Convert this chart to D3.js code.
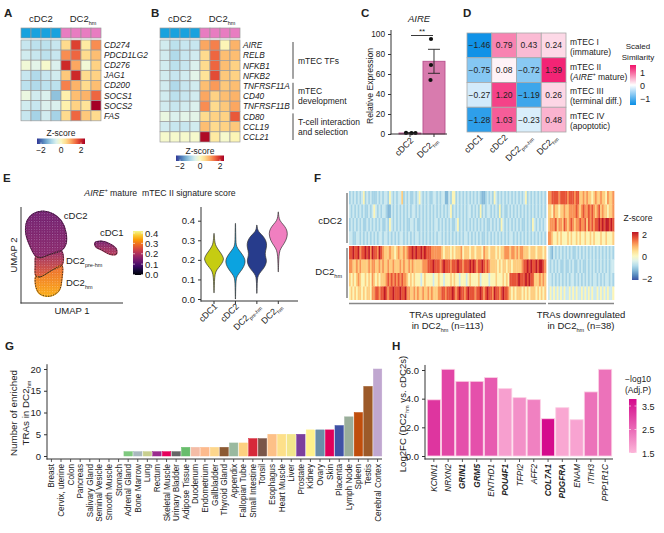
<!DOCTYPE html>
<html>
<head>
<meta charset="utf-8">
<script src="https://cdn.jsdelivr.net/npm/d3@7/dist/d3.min.js"></script>
<style>
html,body{margin:0;padding:0;background:#fff;}
svg text{font-family:"Liberation Sans",Arial,Helvetica,sans-serif;fill:#222;}
</style>
</head>
<body>
<svg id="fig" width="664" height="533" viewBox="0 0 664 533"></svg>
<script>
// ================= DATA =================
// Panel A
const aSamples = ["cDC2","cDC2","cDC2","cDC2","DC2_{hm}","DC2_{hm}","DC2_{hm}","DC2_{hm}"];
const aGenes = ["CD274","PDCD1LG2","CD276","JAG1","CD200","SOCS1","SOCS2","FAS"];
const aZ = [
  [-0.7,-0.8,-0.8,-0.7, 0.5, 1.8, 0.3, 1.2],
  [-0.6,-0.7,-0.8,-0.7, 1.2, 1.5, 0.5, 0.8],
  [-0.2,-0.4,-0.1,-0.5, 2.0, 1.0,-0.2, 0.6],
  [-0.7,-0.9,-0.7,-0.6, 0.7, 2.0, 0.5, 0.6],
  [-0.8,-0.9,-0.8,-0.8, 1.3, 0.9, 0.5, 0.8],
  [-0.3,-0.6,-0.5,-1.2, 0.2, 0.8, 0.9, 1.5],
  [-0.6,-0.7,-0.5,-0.5, 0.2, 0.6, 0.4, 2.5],
  [-0.7,-1.0,-0.6,-1.0, 0.5, 1.5, 0.7, 0.5]
];
// Panel B
const bGenes = ["AIRE","RELB","NFKB1","NFKB2","TNFRSF11A","CD40","TNFRSF11B","CD80","CCL19","CCL21"];
const bZ = [
  [-0.6,-0.8,-0.7,-0.7, 1.0, 1.3, 0.1, 0.9],
  [-0.6,-0.9,-0.7,-0.6, 0.5, 1.5, 0.8, 0.8],
  [-0.6,-0.8,-0.7,-0.5, 0.5, 1.5, 0.8, 0.6],
  [-0.6,-0.7,-0.6,-0.4, 0.4, 1.7, 0.7, 0.6],
  [-0.6,-0.9,-0.7,-0.6, 0.8, 1.1, 0.7, 0.8],
  [-0.6,-0.8,-0.7,-0.6, 1.0, 0.6, 0.8, 0.9],
  [-0.6,-0.7,-0.6,-0.5, 1.2, 0.5, 0.7, 1.0],
  [-0.3,-0.5,-0.4,-0.4, 0.5, 0.6, 0.6, 1.6],
  [-0.6,-0.7,-0.7,-0.6, 0.8, 0.5, 0.6, 0.7],
  [-0.1,-0.1,-0.1,-0.1, 2.3, 0.3,-0.1, 0.1]
];
const bGroupLabels = [["mTEC TFs"],["mTEC","development"],["T-cell interaction","and selection"]];
const bGroupRows = [[0,3],[4,6],[7,9]];
const zTicks = [-2,0,2];
// Panel C
const cGroups = ["cDC2","DC2_{hm}"];
const cMeans = [1.0, 72.7];
const cSEM = [0.3, 12.0];
const cPoints = [[1.1,0.8,1.0],[95,69,54]];
const cTicks = [0,20,40,60,80,100];
// Panel D
const dCols = ["cDC1","cDC2","DC2_{pre-hm}","DC2_{hm}"];
const dRowTitles = ["mTEC I","mTEC II","mTEC III","mTEC IV"];
const dRowSubs = ["(immature)","(*AIRE*^{+} mature)","(terminal diff.)","(apoptotic)"];
const dValues = [
  [-1.46, 0.79, 0.43, 0.24],
  [-0.75, 0.08,-0.72, 1.39],
  [-0.27, 1.20,-1.19, 0.26],
  [-1.28, 1.03,-0.23, 0.48]
];
const dTicks = [1,0,-1];
// Panel E (UMAP in arbitrary UMAP units)
const umapClusters = ["cDC2","DC2_{pre-hm}","DC2_{hm}","cDC1"];
const umapOutlines = [
  [[0.9,12.0],[1.8,13.0],[3.2,13.4],[4.7,13.0],[5.9,12.0],[6.6,10.3],[6.6,8.6],[5.9,7.6],[4.3,7.1],[2.8,6.6],[2.2,6.8],[1.2,8.6],[0.7,10.3]],
  [[2.2,6.8],[2.8,6.6],[4.3,7.1],[5.9,7.6],[6.2,6.9],[6.0,5.5],[4.6,4.8],[2.8,3.8],[2.2,3.9],[2.1,5.5]],
  [[2.2,3.9],[2.8,3.8],[4.6,4.8],[6.0,5.5],[6.0,3.4],[5.6,1.8],[4.3,1.0],[2.8,1.3],[2.2,2.3]],
  [[10.9,8.8],[11.8,9.0],[13.1,8.6],[14.0,7.9],[14.0,7.1],[13.1,7.1],[11.9,7.7],[11.0,8.2]]
];
const umapScoreTop = [0.13, 0.17, 0.28, 0.14];
const umapScoreBottom = [0.16, 0.27, 0.35, 0.21];
const umapLabelPos = [[6.3,12.3],[6.6,5.7],[6.6,2.5],[11.6,9.8]];
const scoreTicks = [0.0,0.1,0.2,0.3,0.4];
const violinGroups = ["cDC1","cDC2","DC2_{pre-hm}","DC2_{hm}"];
const violinDensity = [
  [[0.032,0.01],[0.07,0.03],[0.11,0.06],[0.14,0.15],[0.16,0.45],[0.18,0.78],[0.20,0.95],[0.21,0.95],[0.23,0.75],[0.25,0.45],[0.27,0.2],[0.285,0.1],[0.31,0.04],[0.335,0.01]],
  [[0.0,0.01],[0.04,0.02],[0.08,0.04],[0.105,0.08],[0.12,0.2],[0.14,0.5],[0.165,0.85],[0.19,1.0],[0.21,0.9],[0.23,0.65],[0.25,0.35],[0.267,0.12],[0.285,0.05],[0.32,0.03],[0.36,0.02],[0.386,0.01]],
  [[0.029,0.01],[0.06,0.02],[0.10,0.05],[0.12,0.12],[0.14,0.4],[0.16,0.75],[0.19,1.0],[0.21,0.9],[0.233,0.8],[0.26,0.95],[0.284,1.0],[0.31,0.8],[0.33,0.45],[0.345,0.15],[0.36,0.05],[0.378,0.01]],
  [[0.139,0.01],[0.18,0.03],[0.22,0.06],[0.25,0.15],[0.27,0.4],[0.30,0.8],[0.335,0.95],[0.36,0.8],[0.38,0.5],[0.40,0.15],[0.42,0.05],[0.445,0.01]]
];
// Panel F (one character per TRA; digit = z-score level index into fLevels)
const fLevels = [-2.2,-1.7,-1.3,-1.0,-0.65,0.1,0.65,1.15,1.65,2.15];
const fRowGroups = ["cDC2","DC2_{hm}"];
const fUp = [
  "3434343453 4343334343 4435434344 6343433434 5434343344 3434422435 5343434343 4343432234 3435434343 4343434343 4534343434 343",
  "4343434343 3434543434 4322434343 4343434434 3434343434 3434343453 4343434344 3434353434 4343435343 3434343434 3434343434 343",
  "3434343433 4343434343 3435434343 4343344343 3434343434 4343434343 3453434343 4343434343 3434343543 4343434343 3434354343 434",
  "4433443434 3434343443 4434343434 4343434344 3434343434 3443434343 4343434434 3434343343 4343434343 4344343434 3434343434 343",
  "8898897889 8979887987 6667665676 6767889898 8989888777 7776566656 5666756665 6656665766 5666565667 7767767677 6665666566 656",
  "7766767666 6767766767 6676676667 6766767666 6677788898 8878988878 8898878889 8987889878 7666656566 5665666667 8898988989 987",
  "6565676556 5657656566 6787878787 8776565655 5456555545 5655455565 6554555456 5555645555 4555655565 6588888988 8989886667 676",
  "5656566565 6657788788 9878898889 8897766767 6676676766 6778878889 8789887898 8878898789 8879887898 8765656665 6565666565 656"
];
const fDown = [
  "7788887888 8788878866 7676656766 76657667",
  "6657665667 6677778767 8778787678 67665667",
  "6777867768 7678767787 7868787889 89899898",
  "7765565655 5656556565 5655656555 65565556",
  "4324343434 3434334343 4343434343 43434343",
  "4343434334 3343433434 3343434343 43434344",
  "4434343434 3434434343 4343434434 34344343",
  "4545454545 4454545445 4545454454 54545445"
];
const fBlockTitles = [["TRAs upregulated","in DC2_{hm} (n=113)"],["TRAs downregulated","in DC2_{hm} (n=38)"]];
// Panel G
const gTissues = ["Breast","Cervix, uterine","Colon","Pancreas","Salivary Gland","Seminal Vesicle","Smooth Muscle","Stomach","Adrenal Gland","Bone Marrow","Lung","Rectum","Skeletal Muscle","Urinary Bladder","Adipose Tissue","Duodenum","Endometrium","Gallbladder","Thyroid Gland","Appendix","Fallopian Tube","Small Intestine","Tonsil","Esophagus","Heart Muscle","Liver","Prostate","Kidney","Ovary","Skin","Placenta","Lymph Node","Spleen","Testis","Cerebral Cortex"];
const gCounts = [0,0,0,0,0,0,0,0,1,1,1,1,1,1,2,2,2,2,2,3,3,4,4,5,5,5,5,6,6,6,7,9,10,16,20];
const gColors = ["#efe0ea","#f6e6de","#e6edf2","#dde2f2","#f3dfe6","#f2dfe7","#f0dde6","#f4e2e8","#7fc97f","#a9b8bf","#c8cf8f","#9b2c8e","#e6005c","#666666","#68bd6c","#f4bca6","#fdba8d","#fdd68c","#8c5a33","#9ab99f","#fdd080","#d62839","#7a5548","#fdc087","#fde08a","#f2e68c","#7c3f9d","#fff18c","#6a8ea8","#e0005a","#3f52a5","#9aae9b","#c04e0c","#9c5a29","#c0a7d0"];
const gTicks = [0,5,10,15,20];
// Panel H
const hGenes = ["KCNN1","NRXN2","GRIN1","GRM5","ENTHD1","POU4F1","TFPI2","AFF2","COL7A1","PDGFRA","ENAM","ITIH3","PPP1R1C"];
const hLog2FC = [3.92,6.05,5.21,5.21,5.47,4.70,4.07,3.93,2.60,3.37,2.53,4.47,6.05];
const hNegLogP = [3.2,3.0,2.85,2.85,2.7,1.8,2.0,2.2,3.75,1.7,1.75,2.4,2.4];
const hHighlighted = [false,false,true,true,false,true,false,false,true,true,false,false,false];
const hTicks = [0,2,4,6];
const hLegendTicks = [3.5,2.5,1.5];

// ================= DRAWING =================
const svg = d3.select("#fig");
const defs = svg.append("defs");
const MINUS = "\u2212";
const num = (v, d) => (v < 0 ? MINUS : "") + Math.abs(v).toFixed(d);

function rich(parent, str, attrs) {
  const t = parent.append("text");
  Object.entries(attrs || {}).forEach(([k, v]) => t.attr(k, v));
  const fs = +(attrs && attrs["font-size"]) || 10;
  const re = /(\*[^*]+\*|_\{[^}]+\}|\^\{[^}]+\})/g;
  const parts = str.split(re).filter(s => s && s.length);
  let shift = 0;
  parts.forEach(p => {
    let txt = p, type = "n";
    if (p.length > 2 && p[0] === "*" && p[p.length - 1] === "*") { txt = p.slice(1, -1); type = "i"; }
    else if (p.startsWith("_{")) { txt = p.slice(2, -1); type = "s"; }
    else if (p.startsWith("^{")) { txt = p.slice(2, -1); type = "p"; }
    const ts = t.append("tspan").text(txt);
    let target = 0;
    if (type === "s") { ts.attr("font-size", (fs * 0.58).toFixed(2)); target = 0.28; }
    if (type === "p") { ts.attr("font-size", (fs * 0.6).toFixed(2)); target = -0.42; }
    if (type === "i") ts.attr("font-style", "italic");
    if (target !== shift) { ts.attr("dy", ((target - shift) * fs).toFixed(2)); shift = target; }
  });
  return t;
}
function line(g, x1, y1, x2, y2, stroke, w) {
  return g.append("line").attr("x1", x1).attr("y1", y1).attr("x2", x2).attr("y2", y2)
    .attr("stroke", stroke || "#333").attr("stroke-width", w || 1);
}
function vGradient(id, stops) {
  const gr = defs.append("linearGradient").attr("id", id).attr("x1", 0).attr("y1", 0).attr("x2", 0).attr("y2", 1);
  stops.forEach(([o, c]) => gr.append("stop").attr("offset", o).attr("stop-color", c));
}
function hGradient(id, stops) {
  const gr = defs.append("linearGradient").attr("id", id).attr("x1", 0).attr("y1", 0).attr("x2", 1).attr("y2", 0);
  stops.forEach(([o, c]) => gr.append("stop").attr("offset", o).attr("stop-color", c));
}
function styleAxis(ax, fs) {
  ax.select(".domain").remove();
  ax.selectAll(".tick line").attr("stroke", "#333");
  ax.selectAll(".tick text").attr("font-size", fs).attr("fill", "#222").attr("font-family", null);
}

// panel letters
[["A",4,17],["B",151,17],["C",361,17],["D",463,17],["E",3,182],["F",314,182],["G",5,350],["H",392,350]]
  .forEach(([t,x,y]) => svg.append("text").attr("x",x).attr("y",y).attr("font-size",11.5).attr("font-weight","bold").text(t));

const zColor = d3.scaleSequential(t => d3.interpolateRdYlBu(1 - t)).domain([-2.4, 2.4]).clamp(true);
const sampleFill = s => s === "cDC2" ? "#19a2de" : "#e87cc1";

// ---------- A & B heatmaps ----------
function drawHeat(x0, genes, Z, rowH) {
  const g = svg.append("g");
  const x = d3.scaleBand().domain(d3.range(aSamples.length)).range([x0, x0 + 80]);
  const y = d3.scaleBand().domain(d3.range(genes.length)).range([40, 40 + rowH * genes.length]);
  g.selectAll("rect.s").data(aSamples).join("rect").attr("class","s")
    .attr("x", (d, i) => x(i)).attr("y", 28).attr("width", x.bandwidth()).attr("height", 10)
    .attr("fill", sampleFill).attr("stroke", "#999").attr("stroke-width", 0.7);
  const cells = Z.flatMap((row, r) => row.map((v, c) => ({ r, c, v })));
  g.selectAll("rect.c").data(cells).join("rect").attr("class","c")
    .attr("x", d => x(d.c)).attr("y", d => y(d.r)).attr("width", x.bandwidth()).attr("height", y.bandwidth())
    .attr("fill", d => zColor(d.v)).attr("stroke", "#9d9d9d").attr("stroke-width", 0.7);
  g.selectAll("text.gene").data(genes).join("text").attr("class","gene")
    .attr("x", x0 + 83).attr("y", (d, i) => y(i) + y.bandwidth() / 2 + 3)
    .attr("font-size", 8.3).attr("font-style", "italic").text(d => d);
  const uniq = [...new Set(aSamples)];
  uniq.forEach(s => {
    const idx = aSamples.map((d, i) => d === s ? i : -1).filter(i => i >= 0);
    const cx = (x(idx[0]) + x(idx[idx.length - 1]) + x.bandwidth()) / 2;
    rich(g, s, { x: cx + (s === "cDC2" ? 0 : 2), y: 22, "text-anchor": "middle", "font-size": 9.5 });
  });
  return { g, x, y };
}
function zLegend(x0, x1, titleY, barY, tickY) {
  const g = svg.append("g");
  const s = d3.scaleLinear().domain([-2.4, 2.4]).range([x0, x1]);
  const id = "zg" + Math.round(x0);
  hGradient(id, d3.range(11).map(i => [i / 10, zColor(-2.4 + 4.8 * i / 10)]));
  g.append("text").attr("x", (x0 + x1) / 2).attr("y", titleY).attr("text-anchor", "middle").attr("font-size", 8.5).text("Z-score");
  g.append("rect").attr("x", x0).attr("y", barY).attr("width", x1 - x0).attr("height", 5.5).attr("fill", `url(#${id})`);
  g.selectAll("line.t").data(zTicks).join("line").attr("x1", d => s(d)).attr("x2", d => s(d))
    .attr("y1", barY + 4).attr("y2", barY + 5.5).attr("stroke", "#fff").attr("stroke-width", 0.6);
  g.selectAll("text.t").data(zTicks).join("text").attr("class","t").attr("x", d => s(d)).attr("y", tickY)
    .attr("text-anchor", "middle").attr("font-size", 8.5).text(d => num(d, 0));
}
drawHeat(21, aGenes, aZ, 10.1);
zLegend(37, 85, 135.5, 138.5, 152.5);
const B = drawHeat(160, bGenes, bZ, 10.2);
zLegend(176, 224, 154, 155.5, 168.5);
bGroupRows.forEach(([r0, r1], k) => {
  const yTop = B.y(r0) + 2, yBot = B.y(r1) + B.y.bandwidth() - 2;
  line(B.g, 293, yTop, 293, yBot, "#333", 0.9);
  const mid = (B.y(r0) + B.y(r1) + B.y.bandwidth()) / 2;
  const lab = bGroupLabels[k];
  if (lab.length === 1) B.g.append("text").attr("x", 298).attr("y", mid + 3.5).attr("font-size", 8.5).text(lab[0]);
  else lab.forEach((t, j) => B.g.append("text").attr("x", 298).attr("y", mid - 2 + j * 10).attr("font-size", 8.5).text(t));
});

// ---------- C ----------
{
  const g = svg.append("g");
  const y = d3.scaleLinear().domain([0, 100]).range([134, 34]);
  const x = d3.scaleBand().domain(cGroups).range([399, 445]).paddingInner(0.083);
  g.selectAll("rect.bar").data(cGroups).join("rect").attr("x", d => x(d)).attr("width", x.bandwidth())
    .attr("y", (d, i) => y(cMeans[i])).attr("height", (d, i) => y(0) - y(cMeans[i]))
    .attr("fill", "#d87bae").attr("stroke", "#b8508d").attr("stroke-width", 0.9);
  const jit = [[-4, 1.5, 5.5], [-3, -3, -3.5]];
  cGroups.forEach((gname, i) => {
    const cx = x(gname) + x.bandwidth() / 2;
    const lo = y(cMeans[i] - cSEM[i]), hi = y(cMeans[i] + cSEM[i]);
    line(g, cx, lo, cx, hi, "#222", 0.9);
    line(g, cx - 6, lo, cx + 6, lo, "#222", 0.9);
    line(g, cx - 6, hi, cx + 6, hi, "#222", 0.9);
    cPoints[i].forEach((v, j) => g.append("circle").attr("cx", cx + jit[i][j]).attr("cy", y(v)).attr("r", 2.1).attr("fill", "#111"));
  });
  const ax = g.append("g").attr("transform", "translate(391,0)")
    .call(d3.axisLeft(y).tickValues(cTicks).tickSize(3).tickSizeOuter(0));
  styleAxis(ax, 8.3);
  line(g, 391, 30, 391, 134.5, "#333", 1);
  line(g, 390.5, 134, 447, 134, "#333", 1);
  cGroups.forEach(gname => {
    const cx = x(gname) + x.bandwidth() / 2;
    line(g, cx, 134, cx, 137, "#333", 1);
    rich(g, gname, { transform: `translate(${cx + 4},${141}) rotate(-45)`, "text-anchor": "end", "font-size": 8.8 });
  });
  g.append("text").attr("transform", "translate(373,86) rotate(-90)").attr("text-anchor", "middle").attr("font-size", 8.6).text("Relative Expression");
  g.append("text").attr("x", 419).attr("y", 22).attr("text-anchor", "middle").attr("font-size", 9.5).attr("font-style", "italic").text("AIRE");
  line(g, 411, 35.5, 433, 35.5, "#222", 0.9);
  g.append("text").attr("x", 422).attr("y", 33.5).attr("text-anchor", "middle").attr("font-size", 8).text("**");
}

// ---------- D ----------
{
  const g = svg.append("g");
  const dColor = d3.scaleLinear().domain([-1.5, 0, 1.5]).range(["#0a8fe6", "#ffffff", "#f2136a"]).clamp(true);
  const x = d3.scaleBand().domain(d3.range(dCols.length)).range([467, 566]);
  const y = d3.scaleBand().domain(d3.range(dRowTitles.length)).range([33, 132]);
  const cells = dValues.flatMap((row, r) => row.map((v, c) => ({ r, c, v })));
  g.selectAll("rect").data(cells).join("rect").attr("x", d => x(d.c)).attr("y", d => y(d.r))
    .attr("width", x.bandwidth()).attr("height", y.bandwidth()).attr("fill", d => dColor(d.v))
    .attr("stroke", "#a8a8a8").attr("stroke-width", 0.8);
  g.selectAll("text.v").data(cells).join("text").attr("class","v").attr("x", d => x(d.c) + x.bandwidth() / 2)
    .attr("y", d => y(d.r) + y.bandwidth() / 2 + 3).attr("text-anchor", "middle").attr("font-size", 8.5).text(d => num(d.v, 2));
  dRowTitles.forEach((t, i) => {
    const cy = y(i) + y.bandwidth() / 2;
    g.append("text").attr("x", 570).attr("y", cy - 0.5).attr("font-size", 8.5).text(t);
    rich(g, dRowSubs[i], { x: 570, y: cy + 9.5, "font-size": 8.5 });
  });
  dCols.forEach((c, i) => {
    const cx = x(i) + x.bandwidth() / 2;
    rich(g, c, { transform: `translate(${cx + 4},${138}) rotate(-45)`, "text-anchor": "end", "font-size": 8.8 });
  });
  const ly = d3.scaleLinear().domain([1, -1]).range([72, 98]);
  vGradient("dgrad", d3.range(11).map(i => [i / 10, dColor(ly.invert(65 + 40 * i / 10))]));
  g.append("text").attr("x", 638).attr("y", 49).attr("text-anchor", "middle").attr("font-size", 8).text("Scaled");
  g.append("text").attr("x", 638).attr("y", 60).attr("text-anchor", "middle").attr("font-size", 8).text("Similarity");
  g.append("rect").attr("x", 630).attr("y", 65).attr("width", 6).attr("height", 40).attr("fill", "url(#dgrad)");
  dTicks.forEach(t => g.append("text").attr("x", 640).attr("y", ly(t) + 3.5).attr("font-size", 9).text(num(t, 0)));
}

// ---------- E ----------
{
  const g = svg.append("g");
  rich(g, "*AIRE*^{+} mature  mTEC II signature score", { x: 160, y: 196, "text-anchor": "middle", "font-size": 8.7, style: "white-space:pre" });
  const ux = d3.scaleLinear().domain([0, 15]).range([21, 123]);
  const uy = d3.scaleLinear().domain([0, 14]).range([303, 207]);
  const scoreColor = v => d3.interpolateInferno(Math.max(0, Math.min(1, v / 0.43)));
  umapClusters.forEach((c, i) => vGradient("ug" + i, [[0, scoreColor(umapScoreTop[i])], [1, scoreColor(umapScoreBottom[i])]]));
  const pat = defs.append("pattern").attr("id", "speck").attr("width", 2.6).attr("height", 2.6).attr("patternUnits", "userSpaceOnUse");
  pat.append("circle").attr("cx", 0.6).attr("cy", 0.6).attr("r", 0.5).attr("fill", "#fff").attr("opacity", 0.5);
  pat.append("circle").attr("cx", 1.9).attr("cy", 1.8).attr("r", 0.45).attr("fill", "#fde29a").attr("opacity", 0.3);
  const shape = d3.line().x(d => ux(d[0])).y(d => uy(d[1])).curve(d3.curveCatmullRomClosed.alpha(0.5));
  umapOutlines.forEach((pts, i) => {
    g.append("path").attr("d", shape(pts)).attr("fill", `url(#ug${i})`).attr("stroke", `url(#ug${i})`).attr("stroke-width", 1.4);
    g.append("path").attr("d", shape(pts)).attr("fill", "url(#speck)");
  });
  umapOutlines.forEach(pts => g.append("path").attr("d", shape(pts)).attr("fill", "none")
    .attr("stroke", "#222").attr("stroke-width", 0.8).attr("stroke-dasharray", "1.5,1.1"));
  umapClusters.forEach((c, i) => rich(g, c, { x: ux(umapLabelPos[i][0]), y: uy(umapLabelPos[i][1]), "font-size": 9.5 }));
  line(g, 21, 207, 21, 303.5, "#333", 1);
  line(g, 20.5, 303, 123, 303, "#333", 1);
  g.append("text").attr("transform", "translate(17,255) rotate(-90)").attr("text-anchor", "middle").attr("font-size", 9.5).text("UMAP 2");
  g.append("text").attr("x", 72).attr("y", 314).attr("text-anchor", "middle").attr("font-size", 9.5).text("UMAP 1");
  // colorbar
  const cb = d3.scaleLinear().domain([0, 0.4]).range([274.5, 233]);
  vGradient("infg", d3.range(11).map(i => [i / 10, scoreColor(cb.invert(231 + 44 * i / 10))]));
  g.append("rect").attr("x", 133).attr("y", 231).attr("width", 10).attr("height", 44).attr("fill", "url(#infg)");
  scoreTicks.forEach(t => {
    line(g, 133, cb(t), 135, cb(t), "#fff", 0.6);
    line(g, 141, cb(t), 143, cb(t), "#fff", 0.6);
    g.append("text").attr("x", 145).attr("y", cb(t) + 3.5).attr("font-size", 9.5).text(t.toFixed(1));
  });
  // violins
  const vy = d3.scaleLinear().domain([0, 0.4]).range([299, 220.7]);
  const vx = d3.scaleBand().domain(violinGroups).range([203.3, 289]);
  const vw = d3.scaleLinear().domain([0, 1]).range([0, 10]);
  const vcol = ["#c6cc12", "#0ba3e0", "#273c8c", "#f07fc0"];
  violinGroups.forEach((grp, i) => {
    const cx = vx(grp) + vx.bandwidth() / 2;
    const area = d3.area().y(d => vy(d[0])).x0(d => cx - vw(d[1])).x1(d => cx + vw(d[1])).curve(d3.curveBasis);
    g.append("path").attr("d", area(violinDensity[i])).attr("fill", vcol[i]).attr("stroke", "#333").attr("stroke-width", 0.7);
    line(g, cx, 301, cx, 304, "#333", 1);
    rich(g, grp, { transform: `translate(${cx + 4},${307}) rotate(-45)`, "text-anchor": "end", "font-size": 8.8 });
  });
  const ax = g.append("g").attr("transform", "translate(201,0)").call(d3.axisLeft(vy).tickValues(scoreTicks).tickFormat(d3.format(".1f")).tickSize(3).tickSizeOuter(0));
  styleAxis(ax, 9.5);
  line(g, 201, 207, 201, 301.5, "#333", 1);
  line(g, 200.5, 301, 298, 301, "#333", 1);
}

// ---------- F ----------
{
  const g = svg.append("g");
  const groupY = [d3.scaleBand().domain(d3.range(4)).range([191, 245]), d3.scaleBand().domain(d3.range(4)).range([246, 300])];
  const blocks = [{ rows: fUp, x0: 349, x1: 546 }, { rows: fDown, x0: 548, x1: 614 }];
  blocks.forEach((b, bi) => {
    b.rows.forEach((rs, r) => {
      const s = rs.replace(/ /g, "");
      const xs = d3.scaleLinear().domain([0, s.length]).range([b.x0, b.x1]);
      const ys = groupY[r < 4 ? 0 : 1];
      const rr = r % 4;
      g.append("g").selectAll("rect").data(s.split("")).join("rect")
        .attr("x", (d, i) => xs(i)).attr("width", (d, i) => xs(i + 1) - xs(i) + 0.35)
        .attr("y", ys(rr)).attr("height", ys.bandwidth() + (rr < 3 ? 0.3 : 0))
        .attr("fill", d => zColor(fLevels[+d]));
    });
    line(g, b.x0, 303.5, b.x1, 303.5, "#888", 1.5);
    const cx = (b.x0 + b.x1) / 2;
    g.append("text").attr("x", cx).attr("y", 318).attr("text-anchor", "middle").attr("font-size", 9.5).text(fBlockTitles[bi][0]);
    rich(g, fBlockTitles[bi][1], { x: cx, y: 329, "text-anchor": "middle", "font-size": 9.5 });
  });
  line(g, 347, 193, 347, 243, "#444", 1);
  line(g, 347, 248, 347, 298, "#444", 1);
  rich(g, fRowGroups[0], { x: 342, y: 224, "text-anchor": "end", "font-size": 9.5 });
  rich(g, fRowGroups[1], { x: 342, y: 275, "text-anchor": "end", "font-size": 9.5 });
  const ly = d3.scaleLinear().domain([2, -2]).range([234, 278]);
  vGradient("fgrad", d3.range(11).map(i => [i / 10, zColor(ly.invert(232 + 48 * i / 10))]));
  g.append("text").attr("x", 638).attr("y", 221).attr("text-anchor", "middle").attr("font-size", 8.5).text("Z-score");
  g.append("rect").attr("x", 632).attr("y", 232).attr("width", 6.5).attr("height", 48).attr("fill", "url(#fgrad)");
  zTicks.forEach(t => g.append("text").attr("x", 642).attr("y", ly(t) + 3.5).attr("font-size", 9).text(num(t, 0)));
}

// ---------- G ----------
{
  const g = svg.append("g");
  const y = d3.scaleLinear().domain([0, 20]).range([456, 369]);
  const x = d3.scaleBand().domain(gTissues).range([47.2, 381.8]).paddingInner(0.12);
  g.selectAll("rect").data(gTissues).join("rect").attr("x", d => x(d)).attr("width", x.bandwidth())
    .attr("y", (d, i) => y(gCounts[i])).attr("height", (d, i) => y(0) - y(gCounts[i]))
    .attr("fill", (d, i) => gColors[i]).attr("stroke", (d, i) => gColors[i]).attr("stroke-width", 0.5);
  const ax = g.append("g").attr("transform", "translate(47,0)").call(d3.axisLeft(y).tickValues(gTicks).tickSize(3).tickSizeOuter(0));
  styleAxis(ax, 9.5);
  line(g, 47, y(21.1), 47, 459.5, "#333", 1);
  line(g, 46.5, 459, 382, 459, "#333", 1);
  gTissues.forEach(t => {
    const cx = x(t) + x.bandwidth() / 2;
    line(g, cx, 459, cx, 462, "#333", 0.8);
    g.append("text").attr("transform", `translate(${cx + 3},${464}) rotate(-90)`).attr("text-anchor", "end").attr("font-size", 8.2).text(t);
  });
  g.append("text").attr("transform", "translate(17,413) rotate(-90)").attr("text-anchor", "middle").attr("font-size", 9.8).text("Number of enriched");
  rich(g, "TRAs in DC2_{hm}", { transform: "translate(28.5,413) rotate(-90)", "text-anchor": "middle", "font-size": 9.8 });
}

// ---------- H ----------
{
  const g = svg.append("g");
  const y = d3.scaleLinear().domain([0, 6]).range([456, 370]);
  const x = d3.scaleBand().domain(hGenes).range([427, 612]).paddingInner(0.08).paddingOuter(0.02);
  const hColor = d3.scaleLinear().domain([1.5, 3.8]).range(["#fcb6d9", "#d4088b"]).clamp(true);
  g.selectAll("rect").data(hGenes).join("rect").attr("x", d => x(d)).attr("width", x.bandwidth())
    .attr("y", (d, i) => y(hLog2FC[i])).attr("height", (d, i) => y(0) - y(hLog2FC[i]))
    .attr("fill", (d, i) => hColor(hNegLogP[i])).attr("stroke", "#fbd0e4").attr("stroke-width", 0.8);
  const ax = g.append("g").attr("transform", "translate(425,0)").call(d3.axisLeft(y).tickValues(hTicks).tickSize(3).tickSizeOuter(0));
  styleAxis(ax, 9.5);
  line(g, 425, y(6.35), 425, 459.5, "#333", 1);
  line(g, 424.5, 459, 613, 459, "#333", 1);
  hGenes.forEach((t, i) => {
    const cx = x(t) + x.bandwidth() / 2;
    line(g, cx, 459, cx, 462, "#333", 0.8);
    g.append("text").attr("transform", `translate(${cx + 3},${464}) rotate(-90)`).attr("text-anchor", "end")
      .attr("font-size", 8.2).attr("font-style", "italic").attr("font-weight", hHighlighted[i] ? "bold" : null).text(t);
  });
  rich(g, "Log2FC (DC2_{hm} vs. cDC2s)", { transform: "translate(406,414) rotate(-90)", "text-anchor": "middle", "font-size": 9.6 });
  const ly = d3.scaleLinear().domain([3.5, 2.5]).range([406, 429.5]);
  vGradient("hgrad", d3.range(11).map(i => [i / 10, hColor(ly.invert(399 + 54 * i / 10))]));
  g.append("text").attr("x", 638).attr("y", 382).attr("text-anchor", "middle").attr("font-size", 8.5).text(MINUS + "log10");
  g.append("text").attr("x", 638).attr("y", 393).attr("text-anchor", "middle").attr("font-size", 8.5).text("(Adj.P)");
  g.append("rect").attr("x", 629).attr("y", 399).attr("width", 7.5).attr("height", 54).attr("fill", "url(#hgrad)");
  hLegendTicks.forEach(t => {
    line(g, 629, ly(t), 631, ly(t), "#fff", 0.6);
    line(g, 634.5, ly(t), 636.5, ly(t), "#fff", 0.6);
    g.append("text").attr("x", 642).attr("y", ly(t) + 3.5).attr("font-size", 9).text(t.toFixed(1));
  });
}
</script>
</body>
</html>
